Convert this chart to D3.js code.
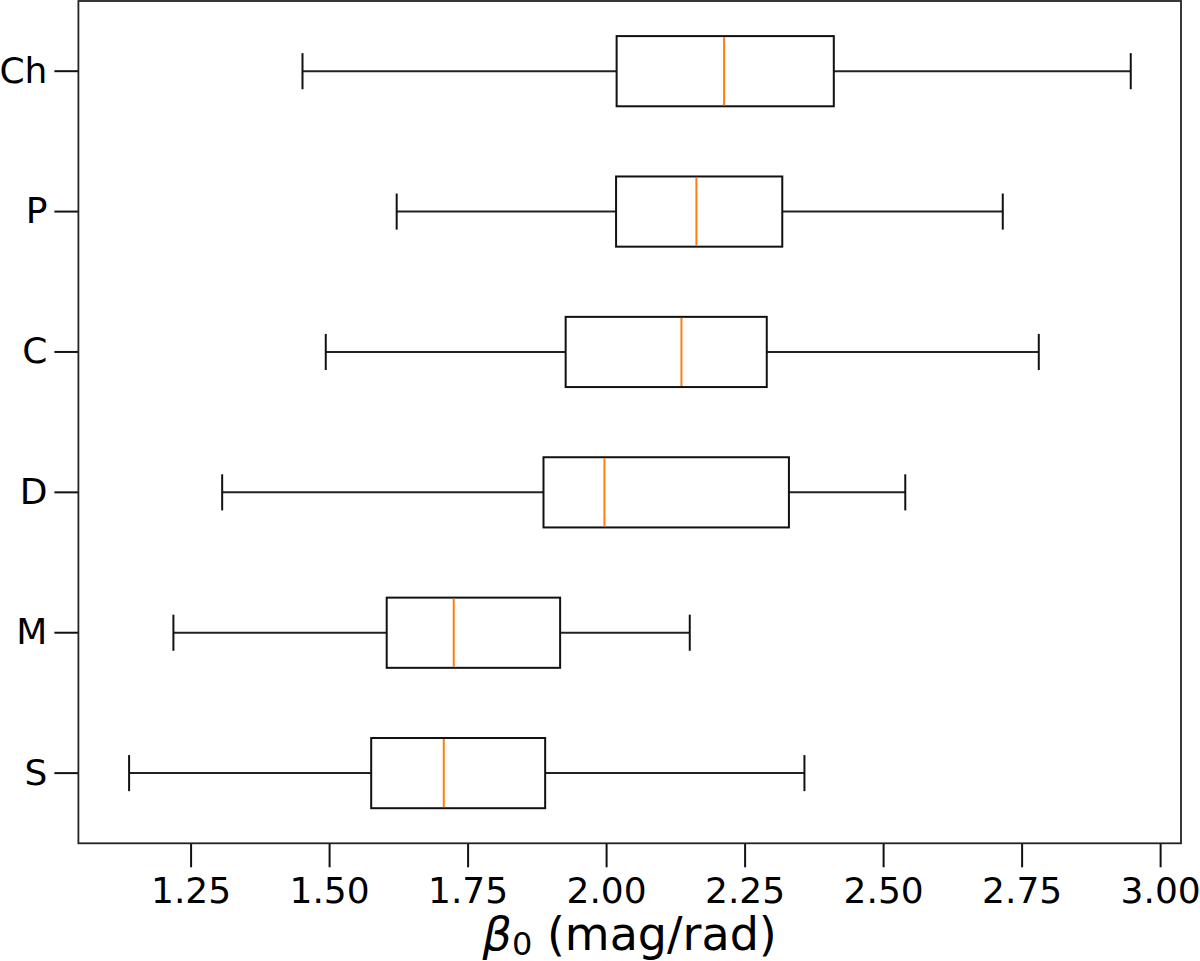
<!DOCTYPE html>
<html>
<head>
<meta charset="utf-8">
<script src="https://cdn.jsdelivr.net/npm/d3@7"></script>
<style>
  html, body { margin: 0; padding: 0; background: #fff; }
  svg { display: block; font-family: "DejaVu Sans", sans-serif; }
</style>
</head>
<body>
<svg id="chart" width="1200" height="961"></svg>
<script>
// Categories (top to bottom)
const categories = ["Ch", "P", "C", "D", "M", "S"];
// Box statistics per category
const whiskerLow  = [1.452, 1.622, 1.494, 1.307, 1.219, 1.139];
const q1          = [2.019, 2.018, 1.927, 1.887, 1.604, 1.576];
const median      = [2.213, 2.163, 2.136, 1.997, 1.725, 1.707];
const q3          = [2.411, 2.318, 2.290, 2.330, 1.917, 1.890];
const whiskerHigh = [2.947, 2.716, 2.781, 2.540, 2.151, 2.358];
// Axis ticks
const xTicks = [1.25, 1.50, 1.75, 2.00, 2.25, 2.50, 2.75, 3.00];

const rows = categories.map((c, i) => ({
  cat: c, lo: whiskerLow[i], q1: q1[i], med: median[i], q3: q3[i], hi: whiskerHigh[i]
}));

const margin = { left: 78.4, right: 1200 - 1181, top: 1, bottom: 961 - 843.3 };
const W = 1200, H = 961;
const svg = d3.select("#chart");

const x = d3.scaleLinear().domain([1.0475, 3.0377]).range([margin.left, W - margin.right]);
const y = d3.scaleBand().domain(categories).range([margin.top, H - margin.bottom]).padding(0);
const bw = y.bandwidth();
const boxH = bw * 0.5;
const capH = bw * 0.25;

const g = svg.append("g");

// Boxes
const box = g.selectAll("g.box").data(rows).enter().append("g").attr("class", "box");
const cy = d => y(d.cat) + bw / 2;

// whiskers
box.append("line")
  .attr("x1", d => x(d.lo)).attr("x2", d => x(d.q1))
  .attr("y1", cy).attr("y2", cy)
  .attr("stroke", "#222").attr("stroke-width", 2);
box.append("line")
  .attr("x1", d => x(d.q3)).attr("x2", d => x(d.hi))
  .attr("y1", cy).attr("y2", cy)
  .attr("stroke", "#222").attr("stroke-width", 2);
// caps
box.append("line")
  .attr("x1", d => x(d.lo)).attr("x2", d => x(d.lo))
  .attr("y1", d => cy(d) - capH / 2 - 0.5).attr("y2", d => cy(d) + capH / 2 + 0.5)
  .attr("stroke", "#111").attr("stroke-width", 2);
box.append("line")
  .attr("x1", d => x(d.hi)).attr("x2", d => x(d.hi))
  .attr("y1", d => cy(d) - capH / 2 - 0.5).attr("y2", d => cy(d) + capH / 2 + 0.5)
  .attr("stroke", "#111").attr("stroke-width", 2);
// box rect
box.append("rect")
  .attr("x", d => x(d.q1)).attr("width", d => x(d.q3) - x(d.q1))
  .attr("y", d => cy(d) - boxH / 2).attr("height", boxH)
  .attr("fill", "none").attr("stroke", "#111").attr("stroke-width", 2);
// median
box.append("line")
  .attr("x1", d => x(d.med)).attr("x2", d => x(d.med))
  .attr("y1", d => cy(d) - boxH / 2 + 1).attr("y2", d => cy(d) + boxH / 2 - 1)
  .attr("stroke", "#ff7f0e").attr("stroke-width", 2);

// X axis
const xAxis = d3.axisBottom(x).tickValues(xTicks).tickFormat(d3.format(".2f"))
  .tickSize(24).tickPadding(10);
const xg = svg.append("g").attr("transform", `translate(0,${H - margin.bottom})`).call(xAxis);
xg.select(".domain").remove();
xg.selectAll(".tick line").attr("stroke", "#111").attr("stroke-width", 2);
xg.selectAll(".tick text").attr("font-size", 36).attr("font-family", "DejaVu Sans").attr("fill", "#000");

// Y axis
const yAxis = d3.axisLeft(y).tickSize(24).tickPadding(7);
const yg = svg.append("g").attr("transform", `translate(${margin.left},0)`).call(yAxis);
yg.select(".domain").remove();
yg.selectAll(".tick line").attr("stroke", "#111").attr("stroke-width", 2);
yg.selectAll(".tick text").attr("font-size", 36).attr("font-family", "DejaVu Sans").attr("fill", "#000");

// Frame
svg.append("rect")
  .attr("x", margin.left).attr("y", margin.top)
  .attr("width", W - margin.right - margin.left).attr("height", H - margin.bottom - margin.top)
  .attr("fill", "none").attr("stroke", "#222").attr("stroke-width", 1.8);

// X label
const lbl = svg.append("text")
  .attr("x", (margin.left + W - margin.right) / 2).attr("y", 950)
  .attr("text-anchor", "middle").attr("font-size", 46).attr("font-family", "DejaVu Sans").attr("fill", "#000");
lbl.append("tspan").attr("font-style", "italic").text("β");
lbl.append("tspan").attr("font-size", 32).attr("dy", 5).text("0");
lbl.append("tspan").attr("dy", -5).text(" (mag/rad)");
</script>
</body>
</html>
